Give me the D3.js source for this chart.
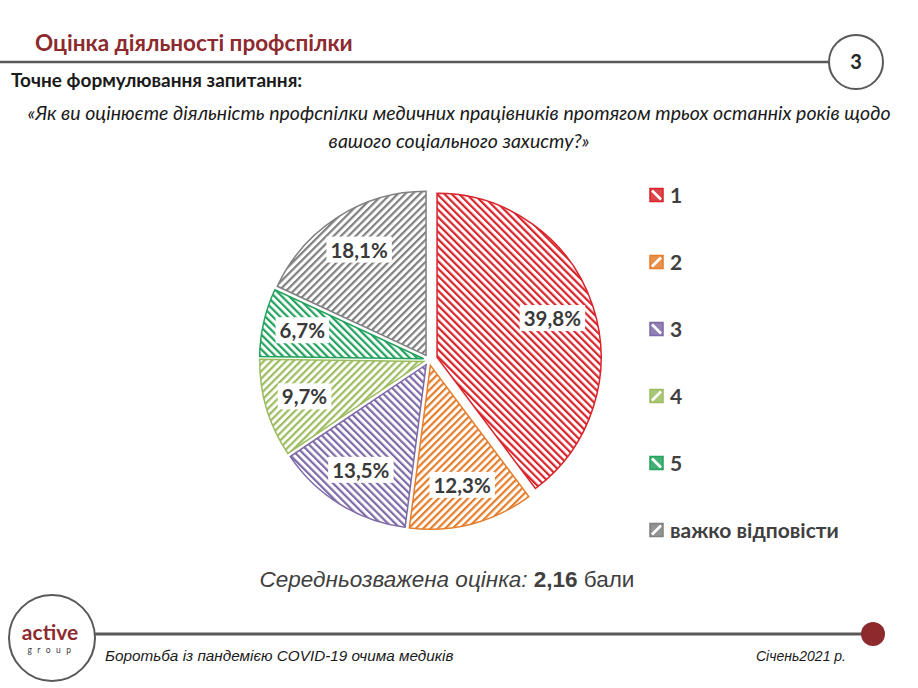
<!DOCTYPE html>
<html>
<head>
    <meta charset="utf-8">
    <script src="https://cdnjs.cloudflare.com/ajax/libs/d3/7.8.5/d3.min.js"></script>
    <style>
        body { margin: 0; background: #fff; }
        svg { display: block; }
    </style>
</head>
<body>
    <div id="chart"></div>
    <script>
        const width = 918, height = 688;

        // data
        const categories = ["1", "2", "3", "4", "5", "важко відповісти"];
        const values = [39.8, 12.3, 13.5, 9.7, 6.7, 18.1];
        const labels = ["39,8%", "12,3%", "13,5%", "9,7%", "6,7%", "18,1%"];
        const colors = ["#d9232a", "#e57e2c", "#7d6aa6", "#9bbc5f", "#23a25e", "#808080"];
        const hatchDir = [-45, 45, -45, 45, -45, 45];

        const svg = d3.select("#chart").append("svg")
            .attr("width", width).attr("height", height);

        const defs = svg.append("defs");
        colors.forEach((c, i) => {
            const p = defs.append("pattern")
                .attr("id", "hatch" + i)
                .attr("patternUnits", "userSpaceOnUse")
                .attr("width", 5.2).attr("height", 5.2)
                .attr("patternTransform", `rotate(${hatchDir[i]})`);
            p.append("rect").attr("width", 5.2).attr("height", 5.2).attr("fill", "#fff");
            p.append("rect").attr("x", 0).attr("width", 2.2).attr("height", 5.2).attr("fill", c);
        });

        // header
        svg.append("text")
            .attr("x", 35).attr("y", 51)
            .attr("font-family", "Lato, sans-serif")
            .attr("font-weight", "bold").attr("font-size", 22.5)
            .attr("fill", "#8c2a2e")
            .text("Оцінка діяльності профспілки");

        svg.append("line")
            .attr("x1", 0).attr("x2", 830).attr("y1", 62).attr("y2", 62)
            .attr("stroke", "#595959").attr("stroke-width", 2.5);
        svg.append("circle")
            .attr("cx", 856).attr("cy", 62).attr("r", 27)
            .attr("fill", "#fff").attr("stroke", "#595959").attr("stroke-width", 2);
        svg.append("text")
            .attr("x", 856).attr("y", 69).attr("text-anchor", "middle")
            .attr("font-family", "Lato, sans-serif").attr("font-weight", "bold")
            .attr("font-size", 20).attr("fill", "#262626")
            .text("3");

        svg.append("text")
            .attr("x", 11).attr("y", 87)
            .attr("font-family", "Lato, sans-serif").attr("font-weight", "bold")
            .attr("font-size", 19).attr("fill", "#1a1a1a")
            .text("Точне формулювання запитання:");

        const question = [
            "«Як ви оцінюєте діяльність профспілки медичних працівників протягом трьох останніх років щодо",
            "вашого соціального захисту?»"
        ];
        svg.append("g").selectAll("text")
            .data(question)
            .enter().append("text")
            .attr("x", 459).attr("y", (d, i) => 120 + i * 28)
            .attr("text-anchor", "middle")
            .attr("font-family", "Lato, sans-serif").attr("font-style", "italic")
            .attr("font-size", 19.5).attr("fill", "#1a1a1a")
            .text(d => d);

        // pie
        const cx = 429, cy = 360, radius = 164;
        const pie = d3.pie().sort(null).value(d => d);
        const arcs = pie(values);
        const arc = d3.arc().innerRadius(0).outerRadius(radius);
        const labelArc = d3.arc().innerRadius(130).outerRadius(130);

        const g = svg.append("g").attr("transform", `translate(${cx},${cy})`);

        // every slice is pulled out a little, the first one a bit more
        const explode = d => {
            const a = (d.startAngle + d.endAngle) / 2;
            const k = d.index === 0 ? 8.5 : 5.5;
            return [Math.sin(a) * k, -Math.cos(a) * k];
        };

        g.selectAll("path.slice")
            .data(arcs)
            .enter().append("path")
            .attr("class", "slice")
            .attr("d", arc)
            .attr("transform", d => `translate(${explode(d)})`)
            .attr("fill", (d, i) => `url(#hatch${i})`)
            .attr("stroke", (d, i) => colors[i])
            .attr("stroke-width", 1.5);

        const lab = g.selectAll("g.lab")
            .data(arcs)
            .enter().append("g")
            .attr("class", "lab")
            .attr("transform", d => `translate(${labelArc.centroid(d)})`);
        lab.append("text")
            .attr("text-anchor", "middle").attr("dy", "0.35em")
            .attr("font-family", "Lato, sans-serif").attr("font-weight", "bold")
            .attr("font-size", 20.5).attr("fill", "#3a3a3a")
            .text((d, i) => labels[i]);
        lab.each(function () {
            const t = d3.select(this).select("text");
            const b = t.node().getBBox();
            d3.select(this).insert("rect", "text")
                .attr("x", b.x - 4).attr("y", b.y - 1)
                .attr("width", b.width + 8).attr("height", b.height + 2)
                .attr("fill", "#fff");
        });

        // legend
        const legendY = d3.scalePoint().domain(categories).range([195, 530]);
        const leg = svg.append("g").selectAll("g")
            .data(categories)
            .enter().append("g")
            .attr("transform", d => `translate(650,${legendY(d)})`);
        leg.append("rect")
            .attr("x", 0).attr("y", -6.5).attr("width", 13).attr("height", 13)
            .attr("fill", (d, i) => colors[i]).attr("fill-opacity", 0.85)
            .attr("stroke", (d, i) => colors[i]).attr("stroke-width", 1.5);
        leg.append("line")
            .attr("x1", (d, i) => hatchDir[i] < 0 ? 2 : 11)
            .attr("x2", (d, i) => hatchDir[i] < 0 ? 11 : 2)
            .attr("y1", -4.5).attr("y2", 4.5)
            .attr("stroke", "#fff").attr("stroke-width", 2.6);
        leg.append("text")
            .attr("x", 20).attr("dy", "0.36em")
            .attr("font-family", "Lato, sans-serif").attr("font-weight", "bold")
            .attr("font-size", 21).attr("fill", "#404040")
            .text(d => d);

        // weighted score
        const score = svg.append("text")
            .attr("x", 447).attr("y", 587).attr("text-anchor", "middle")
            .attr("font-family", "Liberation Sans, Arial, sans-serif")
            .attr("font-size", 22.5).attr("fill", "#404040");
        score.append("tspan").attr("font-style", "italic").text("Середньозважена оцінка: ");
        score.append("tspan").attr("font-weight", "bold").text("2,16");
        score.append("tspan").text(" бали");

        // footer
        svg.append("line")
            .attr("x1", 95).attr("x2", 872).attr("y1", 634).attr("y2", 634)
            .attr("stroke", "#595959").attr("stroke-width", 3);
        svg.append("circle")
            .attr("cx", 873).attr("cy", 634).attr("r", 12)
            .attr("fill", "#8c2a2e");
        svg.append("circle")
            .attr("cx", 52).attr("cy", 638).attr("r", 43)
            .attr("fill", "#fff").attr("stroke", "#595959").attr("stroke-width", 2);
        svg.append("text")
            .attr("x", 50).attr("y", 640).attr("text-anchor", "middle")
            .attr("font-family", "Lato, sans-serif").attr("font-weight", "bold")
            .attr("font-size", 21).attr("fill", "#8c2a2e")
            .text("active");
        svg.append("text")
            .attr("x", 52).attr("y", 653).attr("text-anchor", "middle")
            .attr("font-family", "Lato, sans-serif")
            .attr("font-size", 8.5).attr("letter-spacing", 5.5).attr("fill", "#404040")
            .text("group");

        svg.append("text")
            .attr("x", 105).attr("y", 661)
            .attr("font-family", "Liberation Sans, Arial, sans-serif").attr("font-style", "italic")
            .attr("font-size", 15.3).attr("fill", "#1a1a1a")
            .text("Боротьба із пандемією COVID-19 очима медиків");
        svg.append("text")
            .attr("x", 846).attr("y", 661).attr("text-anchor", "end")
            .attr("font-family", "Liberation Sans, Arial, sans-serif").attr("font-style", "italic")
            .attr("font-size", 14).attr("fill", "#1a1a1a")
            .text("Січень2021 р.");
    </script>
</body>
</html>
